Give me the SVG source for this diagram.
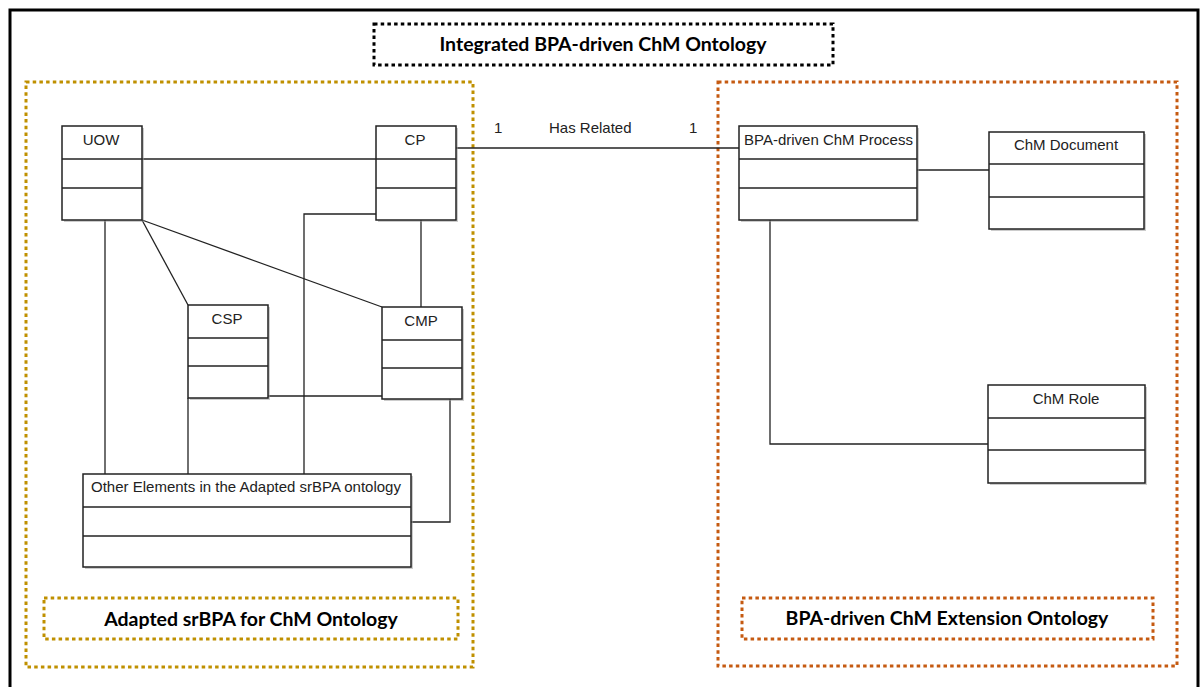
<svg xmlns="http://www.w3.org/2000/svg" width="1202" height="687" viewBox="0 0 1202 687">
<defs>
<style>
.frame{fill:none;stroke:#000;stroke-width:3}
.dotK{fill:none;stroke:#000;stroke-width:3;stroke-dasharray:3.5 3.2}
.dotG{fill:none;stroke:#BF9000;stroke-width:3;stroke-dasharray:3.5 3.2}
.dotO{fill:none;stroke:#C55A11;stroke-width:3;stroke-dasharray:3.5 3.2}
.hdr{font-family:Lato,"Liberation Sans",sans-serif;font-weight:bold;font-size:19.5px;fill:#000;text-anchor:middle}
.cls rect.box{fill:#fff;stroke:#222;stroke-width:1.5}
.cls rect.sh{fill:#999;opacity:0.5}
.cls line{stroke:#222;stroke-width:1.5}
.ct{font-family:"Liberation Sans",Arial,sans-serif;font-size:15px;fill:#222;text-anchor:middle}
.conn path,.conn line{fill:none;stroke:#222;stroke-width:1.3}
.lbl{font-family:"Liberation Sans",Arial,sans-serif;font-size:15px;fill:#222}
</style>
</defs>
<rect width="1202" height="687" fill="#fff"/>
<rect class="frame" x="10" y="10" width="1188" height="690"/>

<g id="title">
<rect class="dotK" x="374" y="24" width="459" height="41"/>
<text class="hdr" x="603" y="51">Integrated BPA-driven ChM Ontology</text>
</g>

<g id="left-container">
<rect class="dotG" x="26" y="82" width="447" height="585"/>
<rect class="dotG" x="44" y="598" width="414" height="41"/>
<text class="hdr" x="251" y="626">Adapted srBPA for ChM Ontology</text>
</g>

<g id="right-container">
<rect class="dotO" x="718" y="82" width="459" height="584"/>
<rect class="dotO" x="742" y="598" width="411" height="41"/>
<text class="hdr" x="947" y="625">BPA-driven ChM Extension Ontology</text>
</g>

<g class="conn" id="connectors">
<line x1="142" y1="159" x2="376" y2="159"/>
<line x1="456" y1="148" x2="739" y2="148"/>
<line x1="105" y1="220" x2="105" y2="474"/>
<line x1="142" y1="220" x2="188" y2="305"/>
<line x1="142" y1="220" x2="382" y2="307"/>
<line x1="421" y1="220" x2="421" y2="307"/>
<path d="M376,214 H304 V474"/>
<line x1="268" y1="396" x2="382" y2="396"/>
<line x1="188" y1="398" x2="188" y2="474"/>
<path d="M450,398 V522 H411"/>
<line x1="917" y1="170" x2="989" y2="170"/>
<path d="M770,220 V444 H988"/>
<text class="lbl" x="494" y="133">1</text>
<text class="lbl" x="549" y="133">Has Related</text>
<text class="lbl" x="689" y="133">1</text>
</g>

<g id="UOW" class="cls">
<rect class="sh" x="64" y="128" width="80" height="94"/>
<rect class="box" x="62" y="126" width="80" height="94"/>
<line x1="62" y1="159" x2="142" y2="159"/>
<line x1="62" y1="188" x2="142" y2="188"/>
<text class="ct" x="101" y="145">UOW</text>
</g>

<g id="CP" class="cls">
<rect class="sh" x="378" y="128" width="80" height="94"/>
<rect class="box" x="376" y="126" width="80" height="94"/>
<line x1="376" y1="159" x2="456" y2="159"/>
<line x1="376" y1="188" x2="456" y2="188"/>
<text class="ct" x="415" y="145">CP</text>
</g>

<g id="CSP" class="cls">
<rect class="sh" x="190" y="307" width="80" height="93"/>
<rect class="box" x="188" y="305" width="80" height="93"/>
<line x1="188" y1="338" x2="268" y2="338"/>
<line x1="188" y1="366" x2="268" y2="366"/>
<text class="ct" x="227" y="324">CSP</text>
</g>

<g id="CMP" class="cls">
<rect class="sh" x="384" y="309" width="80" height="92"/>
<rect class="box" x="382" y="307" width="80" height="92"/>
<line x1="382" y1="340" x2="462" y2="340"/>
<line x1="382" y1="368" x2="462" y2="368"/>
<text class="ct" x="421" y="326">CMP</text>
</g>

<g id="OtherElements" class="cls">
<rect class="sh" x="85" y="476" width="328" height="93"/>
<rect class="box" x="83" y="474" width="328" height="93"/>
<line x1="83" y1="507" x2="411" y2="507"/>
<line x1="83" y1="536" x2="411" y2="536"/>
<text class="ct" x="246" y="492">Other Elements in the Adapted srBPA ontology</text>
</g>

<g id="BPAProcess" class="cls">
<rect class="sh" x="741" y="128" width="178" height="94"/>
<rect class="box" x="739" y="126" width="178" height="94"/>
<line x1="739" y1="159" x2="917" y2="159"/>
<line x1="739" y1="188" x2="917" y2="188"/>
<text class="ct" x="744" y="145" style="text-anchor:start">BPA-driven ChM Process</text>
</g>

<g id="ChMDocument" class="cls">
<rect class="sh" x="991" y="134" width="155" height="97"/>
<rect class="box" x="989" y="132" width="155" height="97"/>
<line x1="989" y1="164" x2="1144" y2="164"/>
<line x1="989" y1="197" x2="1144" y2="197"/>
<text class="ct" x="1066" y="150">ChM Document</text>
</g>

<g id="ChMRole" class="cls">
<rect class="sh" x="990" y="387" width="157" height="98"/>
<rect class="box" x="988" y="385" width="157" height="98"/>
<line x1="988" y1="418" x2="1145" y2="418"/>
<line x1="988" y1="450" x2="1145" y2="450"/>
<text class="ct" x="1066" y="404">ChM Role</text>
</g>
</svg>
